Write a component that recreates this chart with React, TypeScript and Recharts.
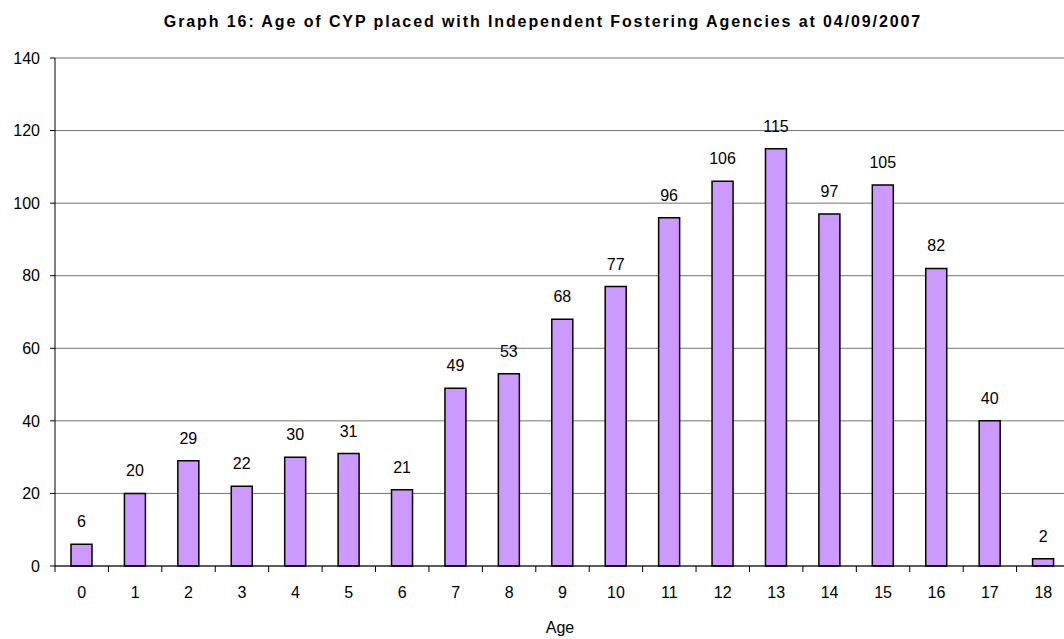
import React from 'react';
import { BarChart, Bar, XAxis, YAxis, CartesianGrid, LabelList } from 'recharts';

const ages = ['0','1','2','3','4','5','6','7','8','9','10','11','12','13','14','15','16','17','18'];
const counts = [6,20,29,22,30,31,21,49,53,68,77,96,106,115,97,105,82,40,2];
const yTicks = [0,20,40,60,80,100,120,140];

const data = ages.map((a, i) => ({ age: a, count: counts[i] }));

const FONT = 'Liberation Sans, Arial, sans-serif';
const CHART_W = 1070;
const LEFT = 55;
const BAND = (CHART_W - LEFT) / ages.length;

const XTick = (props: any) => {
  const { x, y, payload } = props;
  return (
    <g>
      <line x1={x - BAND / 2} x2={x - BAND / 2} y1={y} y2={y + 6} stroke="#000" />
      <text x={x} y={y + 32} textAnchor="middle" fontSize={16} fontFamily={FONT} fill="#000">{payload.value}</text>
    </g>
  );
};

export default function App() {
  return (
    <div style={{ position: 'absolute', left: 0, top: 0, width: 1064, height: 639, overflow: 'hidden', background: '#fff' }}>
      <svg style={{ position: 'absolute', left: 0, top: 0 }} width={1064} height={639}>
        <text x={543} y={27} textAnchor="middle" fontSize={16} fontWeight="bold" fontFamily={FONT} letterSpacing={1.9} fill="#000">
          Graph 16: Age of CYP placed with Independent Fostering Agencies  at 04/09/2007
        </text>
        <text x={560} y={633} textAnchor="middle" fontSize={16} fontFamily={FONT} fill="#000">Age</text>
      </svg>
      <div style={{ position: 'absolute', left: 0, top: 0 }}>
        <BarChart width={CHART_W} height={639} data={data} margin={{ top: 58, right: 0, bottom: 0, left: 0 }} barSize={21}>
          <CartesianGrid vertical={false} stroke="#000" strokeOpacity={0.55} />
          <XAxis dataKey="age" tickLine={false} tickSize={0} tickMargin={0} axisLine={{ stroke: '#000' }} tick={<XTick />} interval={0} height={73} />
          <YAxis width={LEFT} domain={[0, 140]} ticks={yTicks} tickSize={5} tickMargin={10} axisLine={{ stroke: '#000' }} tickLine={{ stroke: '#000' }} tick={{ fontSize: 16, fontFamily: FONT, fill: '#000' }} interval={0} />
          <Bar dataKey="count" fill="#CC99FF" stroke="#000" strokeWidth={1.5} isAnimationActive={false}>
            <LabelList dataKey="count" position="top" offset={17} style={{ fontSize: 16, fontFamily: FONT, fill: '#000' }} />
          </Bar>
        </BarChart>
      </div>
    </div>
  );
}
